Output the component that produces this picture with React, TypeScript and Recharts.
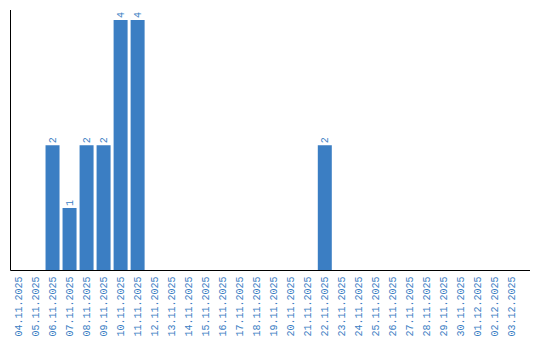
import { BarChart, Bar, XAxis, YAxis, LabelList } from 'recharts'

const dates = [
  '04.11.2025', '05.11.2025', '06.11.2025', '07.11.2025', '08.11.2025', '09.11.2025',
  '10.11.2025', '11.11.2025', '12.11.2025', '13.11.2025', '14.11.2025', '15.11.2025',
  '16.11.2025', '17.11.2025', '18.11.2025', '19.11.2025', '20.11.2025', '21.11.2025',
  '22.11.2025', '23.11.2025', '24.11.2025', '25.11.2025', '26.11.2025', '27.11.2025',
  '28.11.2025', '29.11.2025', '30.11.2025', '01.12.2025', '02.12.2025', '03.12.2025',
]

const counts = [
  0, 0, 2, 1, 2, 2, 4, 4, 0, 0, 0, 0, 0, 0, 0, 0, 0, 0,
  2, 0, 0, 0, 0, 0, 0, 0, 0, 0, 0, 0,
]

const data = dates.map((d, i) => ({ date: d, count: counts[i] }))

const blue = '#3b7ec3'
const font = '"Liberation Mono", monospace'

function DateTick(props: any) {
  const { x, y, payload } = props
  return (
    <text
      x={0}
      y={0}
      transform={`translate(${x + 3.5},${y + 6}) rotate(-90)`}
      textAnchor="end"
      fill={blue}
      fontSize={10}
      fontFamily={font}
    >
      {payload.value}
    </text>
  )
}

function TopLabel(props: any) {
  const { x, y, width, value } = props
  if (!value) return null
  const cx = x + width / 2
  return (
    <text
      x={0}
      y={0}
      transform={`translate(${cx + 3.5},${y - 2}) rotate(-90)`}
      textAnchor="start"
      fill={blue}
      fontSize={10}
      fontFamily={font}
    >
      {value}
    </text>
  )
}

export default function App() {
  return (
    <div style={{ position: 'absolute', left: 0, top: 0, width: 540, height: 340, background: '#fff' }}>
      <BarChart
        width={540}
        height={340}
        data={data}
        margin={{ top: 10, right: 10, bottom: 0, left: 9.5 }}
        barSize={14}
      >
        <XAxis
          dataKey="date"
          interval={0}
          tick={<DateTick />}
          tickLine={false}
          tickSize={0}
          tickMargin={0}
          axisLine={{ stroke: '#000', strokeWidth: 1 }}
          height={69.5}
          padding={{ left: -1, right: 10 }}
        />
        <YAxis
          width={1}
          domain={[0, 4]}
          tick={false}
          tickLine={false}
          axisLine={{ stroke: '#000', strokeWidth: 1 }}
          padding={{ top: 10, bottom: 0 }}
        />
        <Bar dataKey="count" fill={blue} isAnimationActive={false}>
          <LabelList dataKey="count" content={<TopLabel />} />
        </Bar>
      </BarChart>
    </div>
  )
}
